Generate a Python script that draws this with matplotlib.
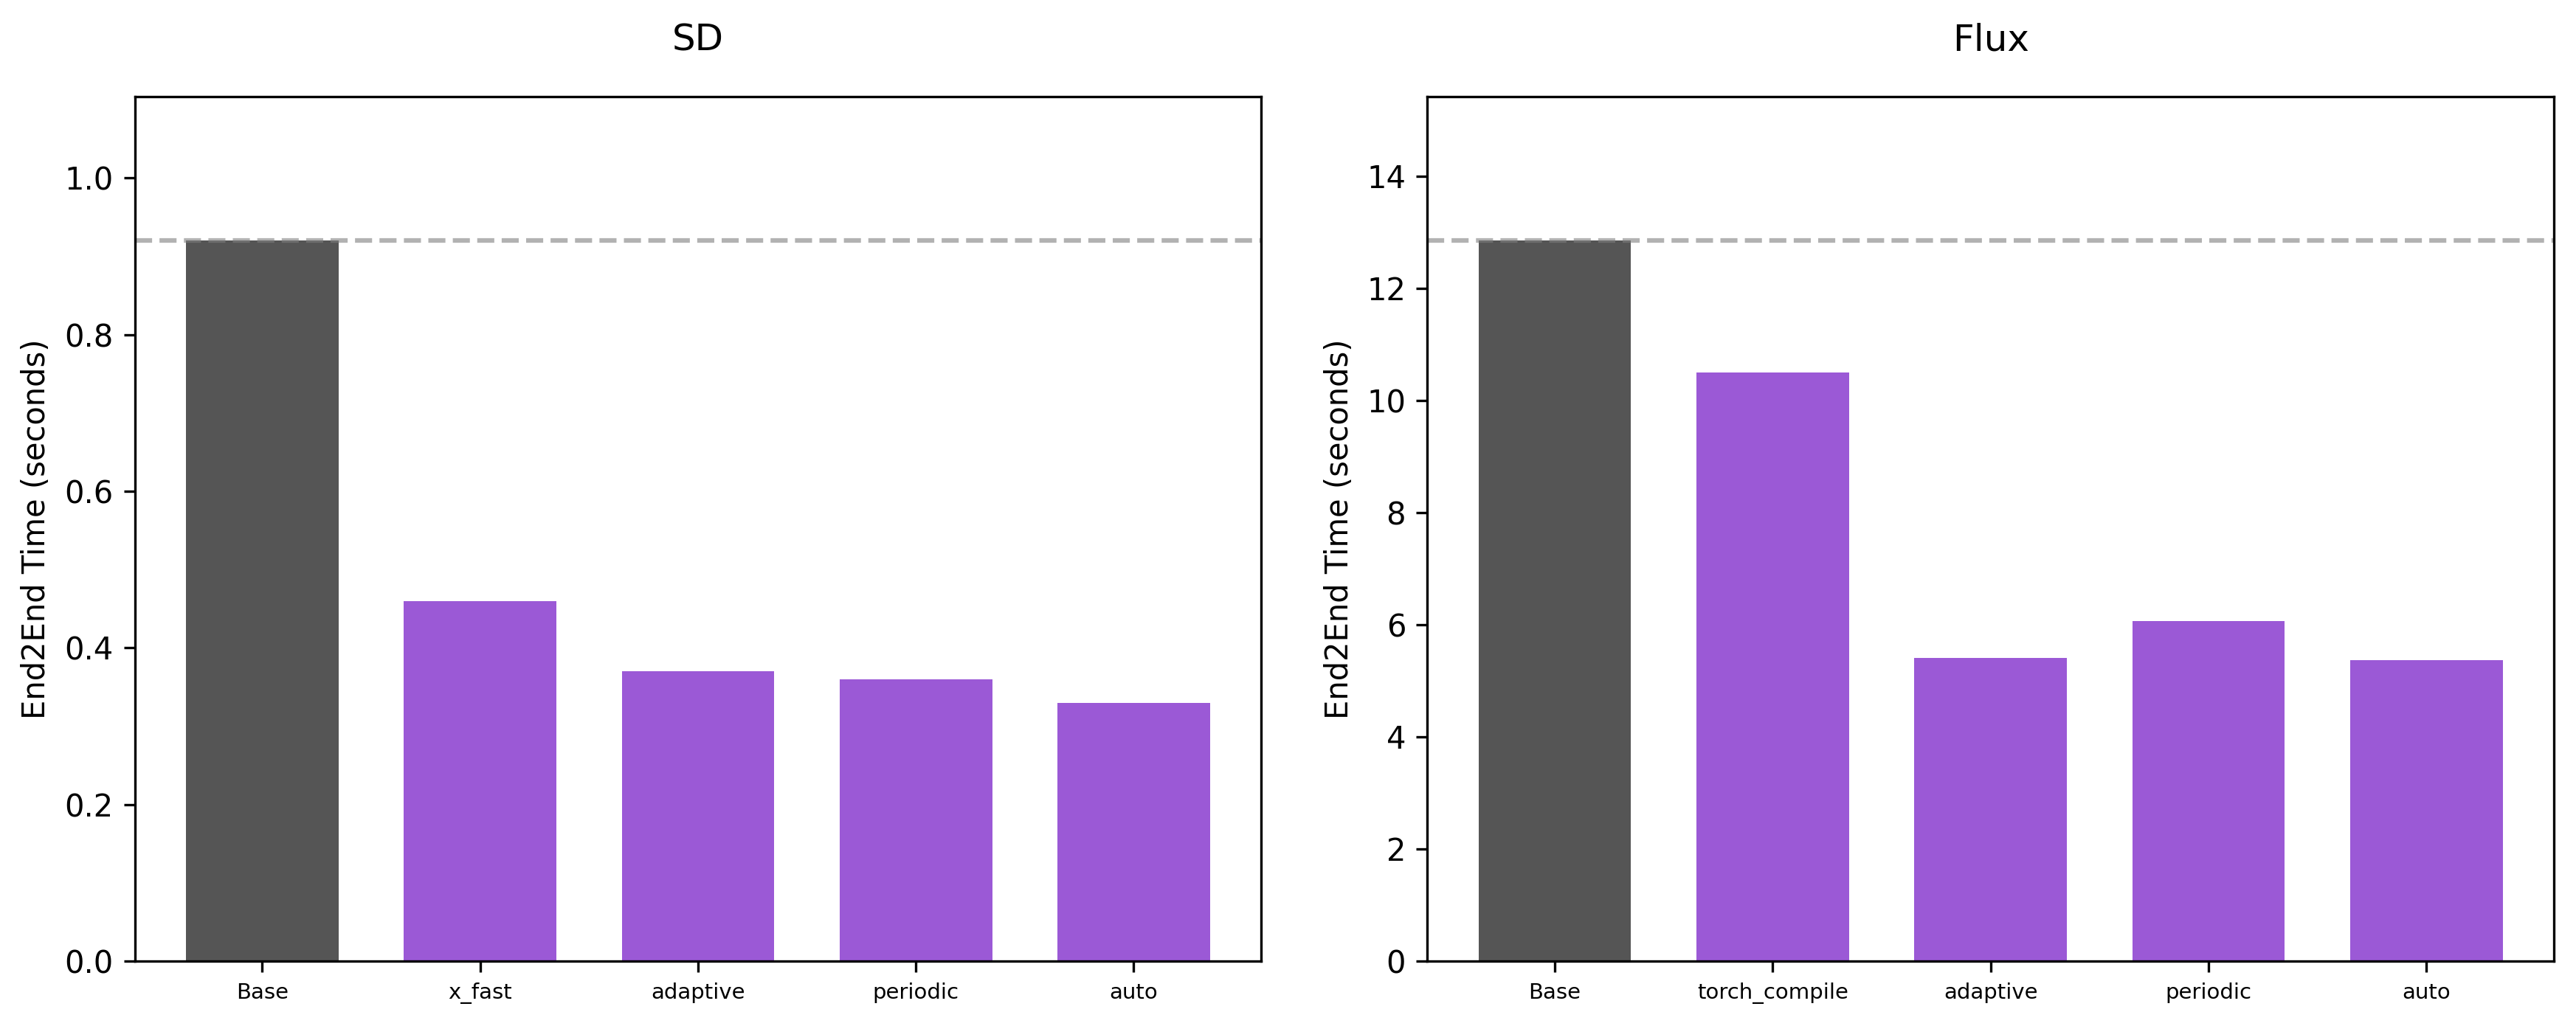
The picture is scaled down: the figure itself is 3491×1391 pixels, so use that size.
import numpy as np
import matplotlib.pyplot as plt

sd_labels = ['Base', 'x_fast', 'adaptive', 'periodic', 'auto']
sd_times = [0.92, 0.46, 0.37, 0.36, 0.33]

flux_labels = ['Base', 'torch_compile', 'adaptive', 'periodic', 'auto']
flux_times = [12.85, 10.5, 5.41, 6.06, 5.36]

base_color = '#555555'
method_color = '#9b59d6'


def plotpanel(ax, title, labels, times):
    x = np.arange(len(labels))
    colors = [base_color] + [method_color] * (len(labels) - 1)
    ax.bar(x, times, width=0.7, color=colors)
    ax.axhline(times[0], color='gray', linestyle='--', alpha=0.6)
    ax.set_xticks(x)
    ax.set_xticklabels(labels, fontsize=7)
    ax.set_ylim(0, max(times) * 1.2)
    ax.set_ylabel('End2End Time (seconds)')
    ax.set_title(title, fontsize=12, pad=15)


fig, (ax1, ax2) = plt.subplots(1, 2, figsize=(3491 / 300, 1391 / 300))
fig.subplots_adjust(left=0.0523, right=0.9914, bottom=0.0633, top=0.906, wspace=0.1475)
plotpanel(ax1, 'SD', sd_labels, sd_times)
plotpanel(ax2, 'Flux', flux_labels, flux_times)
fig.savefig('out.png', dpi=300)
